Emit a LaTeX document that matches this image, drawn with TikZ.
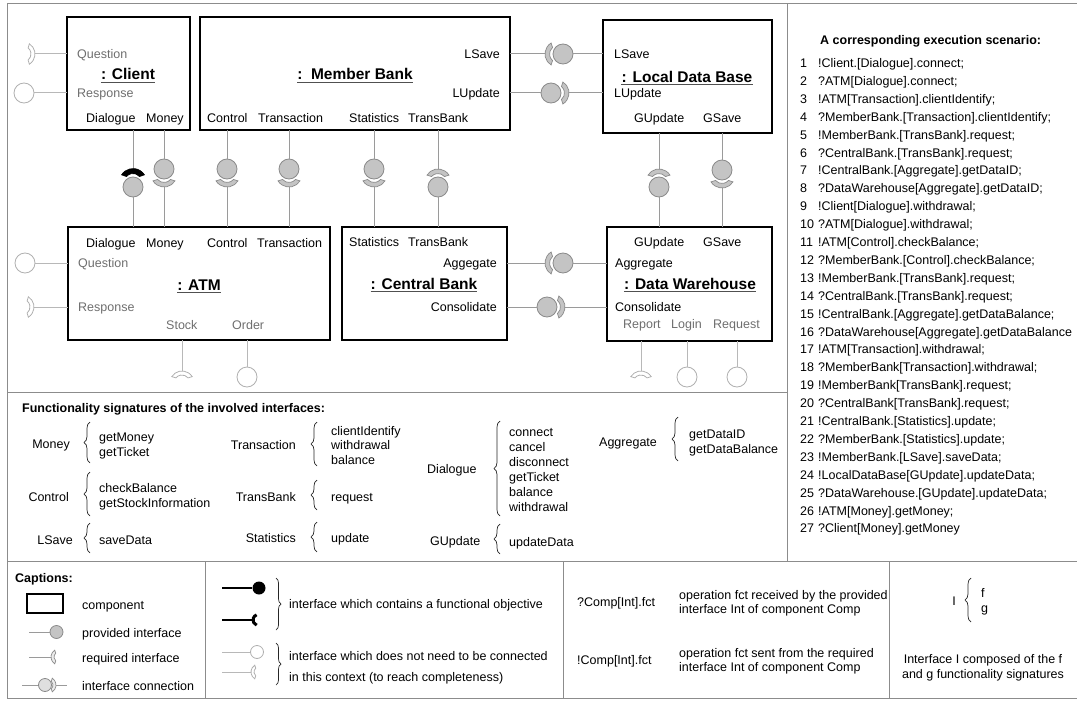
\documentclass[tikz,border=0pt]{standalone}
\usepackage{fontspec}
\setmainfont{Liberation Sans}
\usetikzlibrary{decorations.pathreplacing}
\definecolor{gtext}{HTML}{6E6E6E}
\definecolor{ballfill}{HTML}{C4C4C4}
\definecolor{balldraw}{HTML}{8A8A8A}
\definecolor{lightdraw}{HTML}{B0B0B0}
\definecolor{conncol}{HTML}{9A9A9A}
\definecolor{lightcol}{HTML}{B8B8B8}
\definecolor{framecol}{HTML}{8C8C8C}
\definecolor{ulcol}{HTML}{505050}
\newcommand{\fsz}{\fontsize{12.5}{15}\selectfont}
\newcommand{\ftt}{\fontsize{15.5}{18}\selectfont\bfseries}
% socket (crescent): #1 outer radius, #2 inner radius, #3 centre, #4 direction of the apex, #5 style
\newcommand{\Sock}[5]{\path[#5,shift={(#3)}] (#4-58:#1) arc[start angle=#4-58,end angle=#4+58,radius=#1] -- (#4+50:#2) arc[start angle=#4+50,end angle=#4-50,radius=#2] -- cycle;}
\newcommand{\Lbl}[5][lbl]{\node[#1,anchor=#2] (#3) at (#4) {#5};}
\newcommand{\UL}[1]{\draw[uline] ([yshift=-2.5pt]#1.base west) -- ([yshift=-2.5pt]#1.base east);}
% ball above, socket below
\newcommand{\BS}[5]{\node[ball] (#1) at (#2,#3) {};
 \coordinate (#1a) at (#2,#3+18);
 \draw[conn] (#4.south -| #1) -- (#1.north);
 \draw[conn] (#1a) -- (#5.north -| #1);
 \Sock{13}{8.5}{#2,#3+5}{90}{sockfill}}
% socket above, ball below
\newcommand{\SB}[6]{\node[ball] (#1) at (#2,#3) {};
 \coordinate (#1a) at (#2,#3-18);
 \draw[conn] (#4.south -| #1) -- (#1a);
 \draw[conn] (#1.south) -- (#5.north -| #1);
 \Sock{13}{8.5}{#2,#3-5}{-90}{#6}}
\begin{document}
\begin{tikzpicture}[x=1pt,y=-1pt,
 lbl/.style={inner sep=0pt,font=\fsz},
 glbl/.style={lbl,text=gtext},
 bl/.style={inner sep=0pt,font=\fsz\bfseries},
 ttl/.style={inner sep=0pt,font=\ftt,anchor=base},
 uline/.style={draw=ulcol,line width=1.1pt},
 comp/.style={draw=black,line width=1.8pt,rectangle,inner sep=0pt,outer sep=0pt},
 ball/.style={circle,draw=balldraw,fill=ballfill,line width=0.8pt,minimum size=20pt,inner sep=0pt},
 wball/.style={circle,draw=lightdraw,fill=white,line width=0.8pt,minimum size=20pt,inner sep=0pt},
 conn/.style={draw=conncol,line width=1pt},
 lconn/.style={draw=lightcol,line width=1pt},
 sockfill/.style={fill=ballfill,draw=balldraw,line width=0.7pt},
 sockwhite/.style={fill=white,draw=lightdraw,line width=0.8pt},
 sockblack/.style={fill=black,draw=black,line width=0.6pt},
 frame/.style={draw=framecol,line width=1pt},
 brc/.style={decorate,decoration={brace,amplitude=6pt},draw=black!85,line width=0.7pt},
 sbrc/.style={decorate,decoration={brace,amplitude=5pt},draw=black!85,line width=0.7pt}]
\useasboundingbox (0,0) rectangle (1077,701);
% frame
\draw[frame] (1077,4) -- (7,4) -- (7,698) -- (1077,698);
\draw[frame] (787,4) -- (787,561);
\draw[frame] (7,392) -- (787,392);
\draw[frame] (7,561) -- (1077,561);
\draw[frame] (205,561) -- (205,698);
\draw[frame] (563,561) -- (563,698);
\draw[frame] (889,561) -- (889,698);
% components
\node[comp,minimum width=123,minimum height=113] (client) at (128.5,73.5) {};
\node[comp,minimum width=310,minimum height=113] (mb) at (355,73.5) {};
\node[comp,minimum width=169,minimum height=113] (ldb) at (687.5,76.5) {};
\node[comp,minimum width=262,minimum height=113] (atm) at (199,283.5) {};
\node[comp,minimum width=165,minimum height=113] (cb) at (424.5,283.5) {};
\node[comp,minimum width=165,minimum height=114] (dw) at (689.5,284) {};
% client labels
\Lbl[glbl]{base west}{cq}{77,59}{Question}
\node[ttl] (tcl) at (128,80) {: Client}; \UL{tcl}
\Lbl[glbl]{base west}{cr}{77,98}{Response}
\Lbl{base west}{cdl}{86,122}{Dialogue}
\Lbl{base west}{cmo}{146,122}{Money}
% member bank labels
\Lbl{base east}{mls}{500,59}{LSave}
\node[ttl] (tmb) at (355,80) {:\ \ Member Bank}; \UL{tmb}
\Lbl{base east}{mlu}{500,98}{LUpdate}
\Lbl{base west}{mco}{207,122}{Control}
\Lbl{base west}{mtr}{258,122}{Transaction}
\Lbl{base west}{mst}{349,122}{Statistics}
\Lbl{base west}{mtb}{408,122}{TransBank}
% local data base labels
\Lbl{base west}{lls}{614,59}{LSave}
\node[ttl] (tld) at (687,82) {: Local Data Base}; \UL{tld}
\Lbl{base west}{llu}{614,98}{LUpdate}
\Lbl{base west}{lgu}{634,122}{GUpdate}
\Lbl{base west}{lgs}{703,122}{GSave}
% ATM labels
\Lbl{base west}{adl}{86,247}{Dialogue}
\Lbl{base west}{amo}{146,247}{Money}
\Lbl{base west}{aco}{207,247}{Control}
\Lbl{base west}{atr}{257,247}{Transaction}
\Lbl[glbl]{base west}{aq}{78,267}{Question}
\node[ttl] (tatm) at (199,290) {: ATM}; \UL{tatm}
\Lbl[glbl]{base west}{ar}{78,311}{Response}
\Lbl[glbl]{base west}{ast}{166,329}{Stock}
\Lbl[glbl]{base west}{aor}{232,329}{Order}
% central bank labels
\Lbl{base west}{cst}{349,246}{Statistics}
\Lbl{base west}{ctb}{408,246}{TransBank}
\Lbl{base east}{cag}{497,267}{Aggegate}
\node[ttl] (tcb) at (424,289) {: Central Bank}; \UL{tcb}
\Lbl{base east}{ccs}{497,311}{Consolidate}
% data warehouse labels
\Lbl{base west}{dgu}{634,246}{GUpdate}
\Lbl{base west}{dgs}{703,246}{GSave}
\Lbl{base west}{dag}{615,267}{Aggregate}
\node[ttl] (tdw) at (690,289) {: Data Warehouse}; \UL{tdw}
\Lbl{base west}{dcs}{615,311}{Consolidate}
\Lbl[glbl]{base west}{drp}{623,328}{Report}
\Lbl[glbl]{base west}{dlg}{671,328}{Login}
\Lbl[glbl]{base west}{drq}{713,328}{Request}
% vertical connections
\node[ball] (bdl) at (133,187) {};
\coordinate (bdla) at (133,169);
\draw[conn] (client.south -| bdl) -- (bdla);
\draw[conn] (bdl.south) -- (atm.north -| bdl);
\Sock{13.5}{8.5}{133,182}{-90}{sockblack}
\BS{bmo}{164}{169}{client}{atm}
\BS{bco}{227}{169}{mb}{atm}
\BS{btr}{289}{169}{mb}{atm}
\BS{bst}{374}{169}{mb}{cb}
\SB{btb}{438}{187}{mb}{cb}{sockfill}
\SB{bgu}{659}{187}{ldb}{dw}{sockfill}
\BS{bgs}{722}{170}{ldb}{dw}
% horizontal connections
\node[ball] (bls) at (563,54) {};
\coordinate (blsa) at (545,54);
\draw[conn] (mb.east |- bls) -- (blsa);
\draw[conn] (bls.east) -- (ldb.west |- bls);
\Sock{13}{8.5}{558,54}{180}{sockfill}
\node[ball] (blu) at (551,93) {};
\coordinate (blua) at (569,93);
\draw[conn] (mb.east |- blu) -- (blu.west);
\draw[conn] (blua) -- (ldb.west |- blu);
\Sock{13}{8.5}{556,93}{0}{sockfill}
\node[ball] (bag) at (563,263) {};
\coordinate (baga) at (545,263);
\draw[conn] (cb.east |- bag) -- (baga);
\draw[conn] (bag.east) -- (dw.west |- bag);
\Sock{13}{8.5}{558,263}{180}{sockfill}
\node[ball] (bcs) at (547,307) {};
\coordinate (bcsa) at (565,307);
\draw[conn] (cb.east |- bcs) -- (bcs.west);
\draw[conn] (bcsa) -- (dw.west |- bcs);
\Sock{13}{8.5}{552,307}{0}{sockfill}
% unconnected interfaces
\coordinate (cqa) at (35,54);
\draw[lconn] (client.west |- cqa) -- (cqa);
\Sock{12}{8}{23,54}{0}{sockwhite}
\node[wball] (crb) at (24,93) {};
\draw[lconn] (client.west |- crb) -- (crb.east);
\node[wball] (aqb) at (25,263) {};
\draw[lconn] (atm.west |- aqb) -- (aqb.east);
\coordinate (ara) at (34,307);
\draw[lconn] (atm.west |- ara) -- (ara);
\Sock{12}{8}{22,307}{0}{sockwhite}
\coordinate (sta) at (182,371);
\draw[lconn] (atm.south -| sta) -- (sta);
\Sock{12}{8}{182,383}{-90}{sockwhite}
\node[wball] (orb) at (247,377) {};
\draw[lconn] (atm.south -| orb) -- (orb.north);
\coordinate (rpa) at (641,371);
\draw[lconn] (dw.south -| rpa) -- (rpa);
\Sock{12}{8}{641,383}{-90}{sockwhite}
\node[wball] (lgb) at (687,377) {};
\draw[lconn] (dw.south -| lgb) -- (lgb.north);
\node[wball] (rqb) at (737,377) {};
\draw[lconn] (dw.south -| rqb) -- (rqb.north);
% functionality signatures
\Lbl[bl]{base west}{sigt}{22,412}{Functionality signatures of the involved interfaces:}
\Lbl{base east}{sgm}{70,448}{Money}
\draw[brc] (90,463) -- (90,422);
\Lbl{base west}{sgm1}{99,441}{getMoney}
\Lbl{base west}{sgm2}{99,456}{getTicket}
\Lbl{base east}{sgc}{69,501}{Control}
\draw[brc] (90,516) -- (90,472);
\Lbl{base west}{sgc1}{99,492}{checkBalance}
\Lbl{base west}{sgc2}{99,507}{getStockInformation}
\Lbl{base east}{sgl}{73,544}{LSave}
\draw[brc] (90,553) -- (90,523);
\Lbl{base west}{sgl1}{99,544}{saveData}
\Lbl{base east}{sgt}{296,449}{Transaction}
\draw[brc] (317,466) -- (317,422);
\Lbl{base west}{sgt1}{331,435}{clientIdentify}
\Lbl{base west}{sgt2}{331,449}{withdrawal}
\Lbl{base west}{sgt3}{331,464}{balance}
\Lbl{base east}{sgb}{296,501}{TransBank}
\draw[brc] (317,510) -- (317,480);
\Lbl{base west}{sgb1}{331,501}{request}
\Lbl{base east}{sgs}{296,542}{Statistics}
\draw[brc] (317,552) -- (317,522);
\Lbl{base west}{sgs1}{331,542}{update}
\Lbl{base west}{sgd}{427,473}{Dialogue}
\draw[brc] (500,516) -- (500,421);
\Lbl{base west}{sgd1}{509,436}{connect}
\Lbl{base west}{sgd2}{509,451}{cancel}
\Lbl{base west}{sgd3}{509,466}{disconnect}
\Lbl{base west}{sgd4}{509,481}{getTicket}
\Lbl{base west}{sgd5}{509,496}{balance}
\Lbl{base west}{sgd6}{509,511}{withdrawal}
\Lbl{base west}{sgg}{430,545}{GUpdate}
\draw[brc] (500,554) -- (500,524);
\Lbl{base west}{sgg1}{509,546}{updateData}
\Lbl{base west}{sga}{599,446}{Aggregate}
\draw[brc] (678,461) -- (678,417);
\Lbl{base west}{sga1}{689,438}{getDataID}
\Lbl{base west}{sga2}{689,453}{getDataBalance}
% scenario
\Lbl[bl]{base west}{sct}{820,45}{A corresponding execution scenario:}
\foreach \t [count=\i] in {!Client.[Dialogue].connect;, ?ATM[Dialogue].connect;, !ATM[Transaction].clientIdentify;, ?MemberBank.[Transaction].clientIdentify;, !MemberBank.[TransBank].request;, ?CentralBank.[TransBank].request;, !CentralBank.[Aggregate].getDataID;, ?DataWarehouse[Aggregate].getDataID;, !Client[Dialogue].withdrawal;, ?ATM[Dialogue].withdrawal;, !ATM[Control].checkBalance;, ?MemberBank.[Control].checkBalance;, !MemberBank.[TransBank].request;, ?CentralBank.[TransBank].request;, !CentralBank.[Aggregate].getDataBalance;, ?DataWarehouse[Aggregate].getDataBalance, !ATM[Transaction].withdrawal;, ?MemberBank[Transaction].withdrawal;, !MemberBank[TransBank].request;, ?CentralBank[TransBank].request;, !CentralBank.[Statistics].update;, ?MemberBank.[Statistics].update;, !MemberBank.[LSave].saveData;, !LocalDataBase[GUpdate].updateData;, ?DataWarehouse.[GUpdate].updateData;, !ATM[Money].getMoney;, ?Client[Money].getMoney}
{\node[lbl,anchor=base west] (sn\i) at (800,{67.5+(\i-1)*17.9}) {\i};
 \node[lbl,anchor=base west] (st\i) at (818,{67.5+(\i-1)*17.9}) {\t};}
% captions column 1
\Lbl[bl]{base west}{capt}{15,582}{Captions:}
\node[draw=black,line width=1.5pt,minimum width=36,minimum height=19,inner sep=0pt] (lgc) at (45,603.5) {};
\Lbl{base west}{lgct}{82,609}{component}
\coordinate (lgp0) at (29,632);
\node[ball,minimum size=13pt] (lgp) at (56.5,632) {};
\draw[conn] (lgp0) -- (lgp.west);
\Lbl{base west}{lgpt}{82,637}{provided interface}
\coordinate (lgr0) at (29,657);
\coordinate (lgra) at (51,657);
\draw[conn] (lgr0) -- (lgra);
\Sock{8}{5}{59,657}{180}{fill=black!8,draw=balldraw,line width=0.7pt}
\Lbl{base west}{lgrt}{82,662}{required interface}
\coordinate (lgk0) at (22,685);
\node[ball,fill=ballfill!55,minimum size=13pt] (lgk) at (45,685) {};
\coordinate (lgka) at (56,685);
\coordinate (lgk1) at (67,685);
\draw[conn] (lgk0) -- (lgk.west);
\draw[conn] (lgka) -- (lgk1);
\Sock{8}{5}{48,685}{0}{fill=black!8,draw=balldraw,line width=0.7pt}
\Lbl{base west}{lgkt}{82,690}{interface connection}
% captions column 2
\coordinate (lfb0) at (222,588);
\node[circle,fill=black,minimum size=13pt,inner sep=0pt] (lfb) at (259,588) {};
\draw[line width=2pt] (lfb0) -- (lfb.west);
\coordinate (lfs0) at (222,620);
\coordinate (lfsa) at (253,620);
\draw[line width=2pt] (lfs0) -- (lfsa);
\draw[line width=3pt,shift={(258.5,620)}] (110:5.5) arc[start angle=110,end angle=250,radius=5.5];
\draw[sbrc] (276,578) -- (276,630);
\Lbl{base west}{lft}{289,608}{interface which contains a functional objective}
\coordinate (lwc0) at (222,652);
\node[wball,minimum size=13pt] (lwc) at (257,652) {};
\draw[lconn] (lwc0) -- (lwc.west);
\coordinate (lws0) at (222,672);
\coordinate (lwsa) at (251,672);
\draw[lconn] (lws0) -- (lwsa);
\Sock{8}{5}{259,672}{180}{sockwhite}
\draw[sbrc] (276,643) -- (276,685);
\Lbl{base west}{lwt1}{289,660}{interface which does not need to be connected}
\Lbl{base west}{lwt2}{289,681}{in this context (to reach completeness)}
% captions column 3
\Lbl{base west}{c3a}{577,606}{?Comp[Int].fct}
\Lbl{base west}{c3b}{679,599.5}{operation fct received by the provided}
\Lbl{base west}{c3c}{679,613}{interface Int of component Comp}
\Lbl{base west}{c3d}{577,664}{!Comp[Int].fct}
\Lbl{base west}{c3e}{679,657.5}{operation fct sent from the required}
\Lbl{base west}{c3f}{679,671}{interface Int of component Comp}
% captions column 4
\Lbl{base east}{c4i}{956,605}{I}
\draw[brc] (971,622) -- (971,578);
\Lbl{base west}{c4f}{981,597.5}{f}
\Lbl{base west}{c4g}{981,612.5}{g}
\Lbl{base}{c4a}{983,663}{Interface I composed of the f}
\Lbl{base}{c4b}{983,678}{and g functionality signatures}
\end{tikzpicture}
\end{document}
